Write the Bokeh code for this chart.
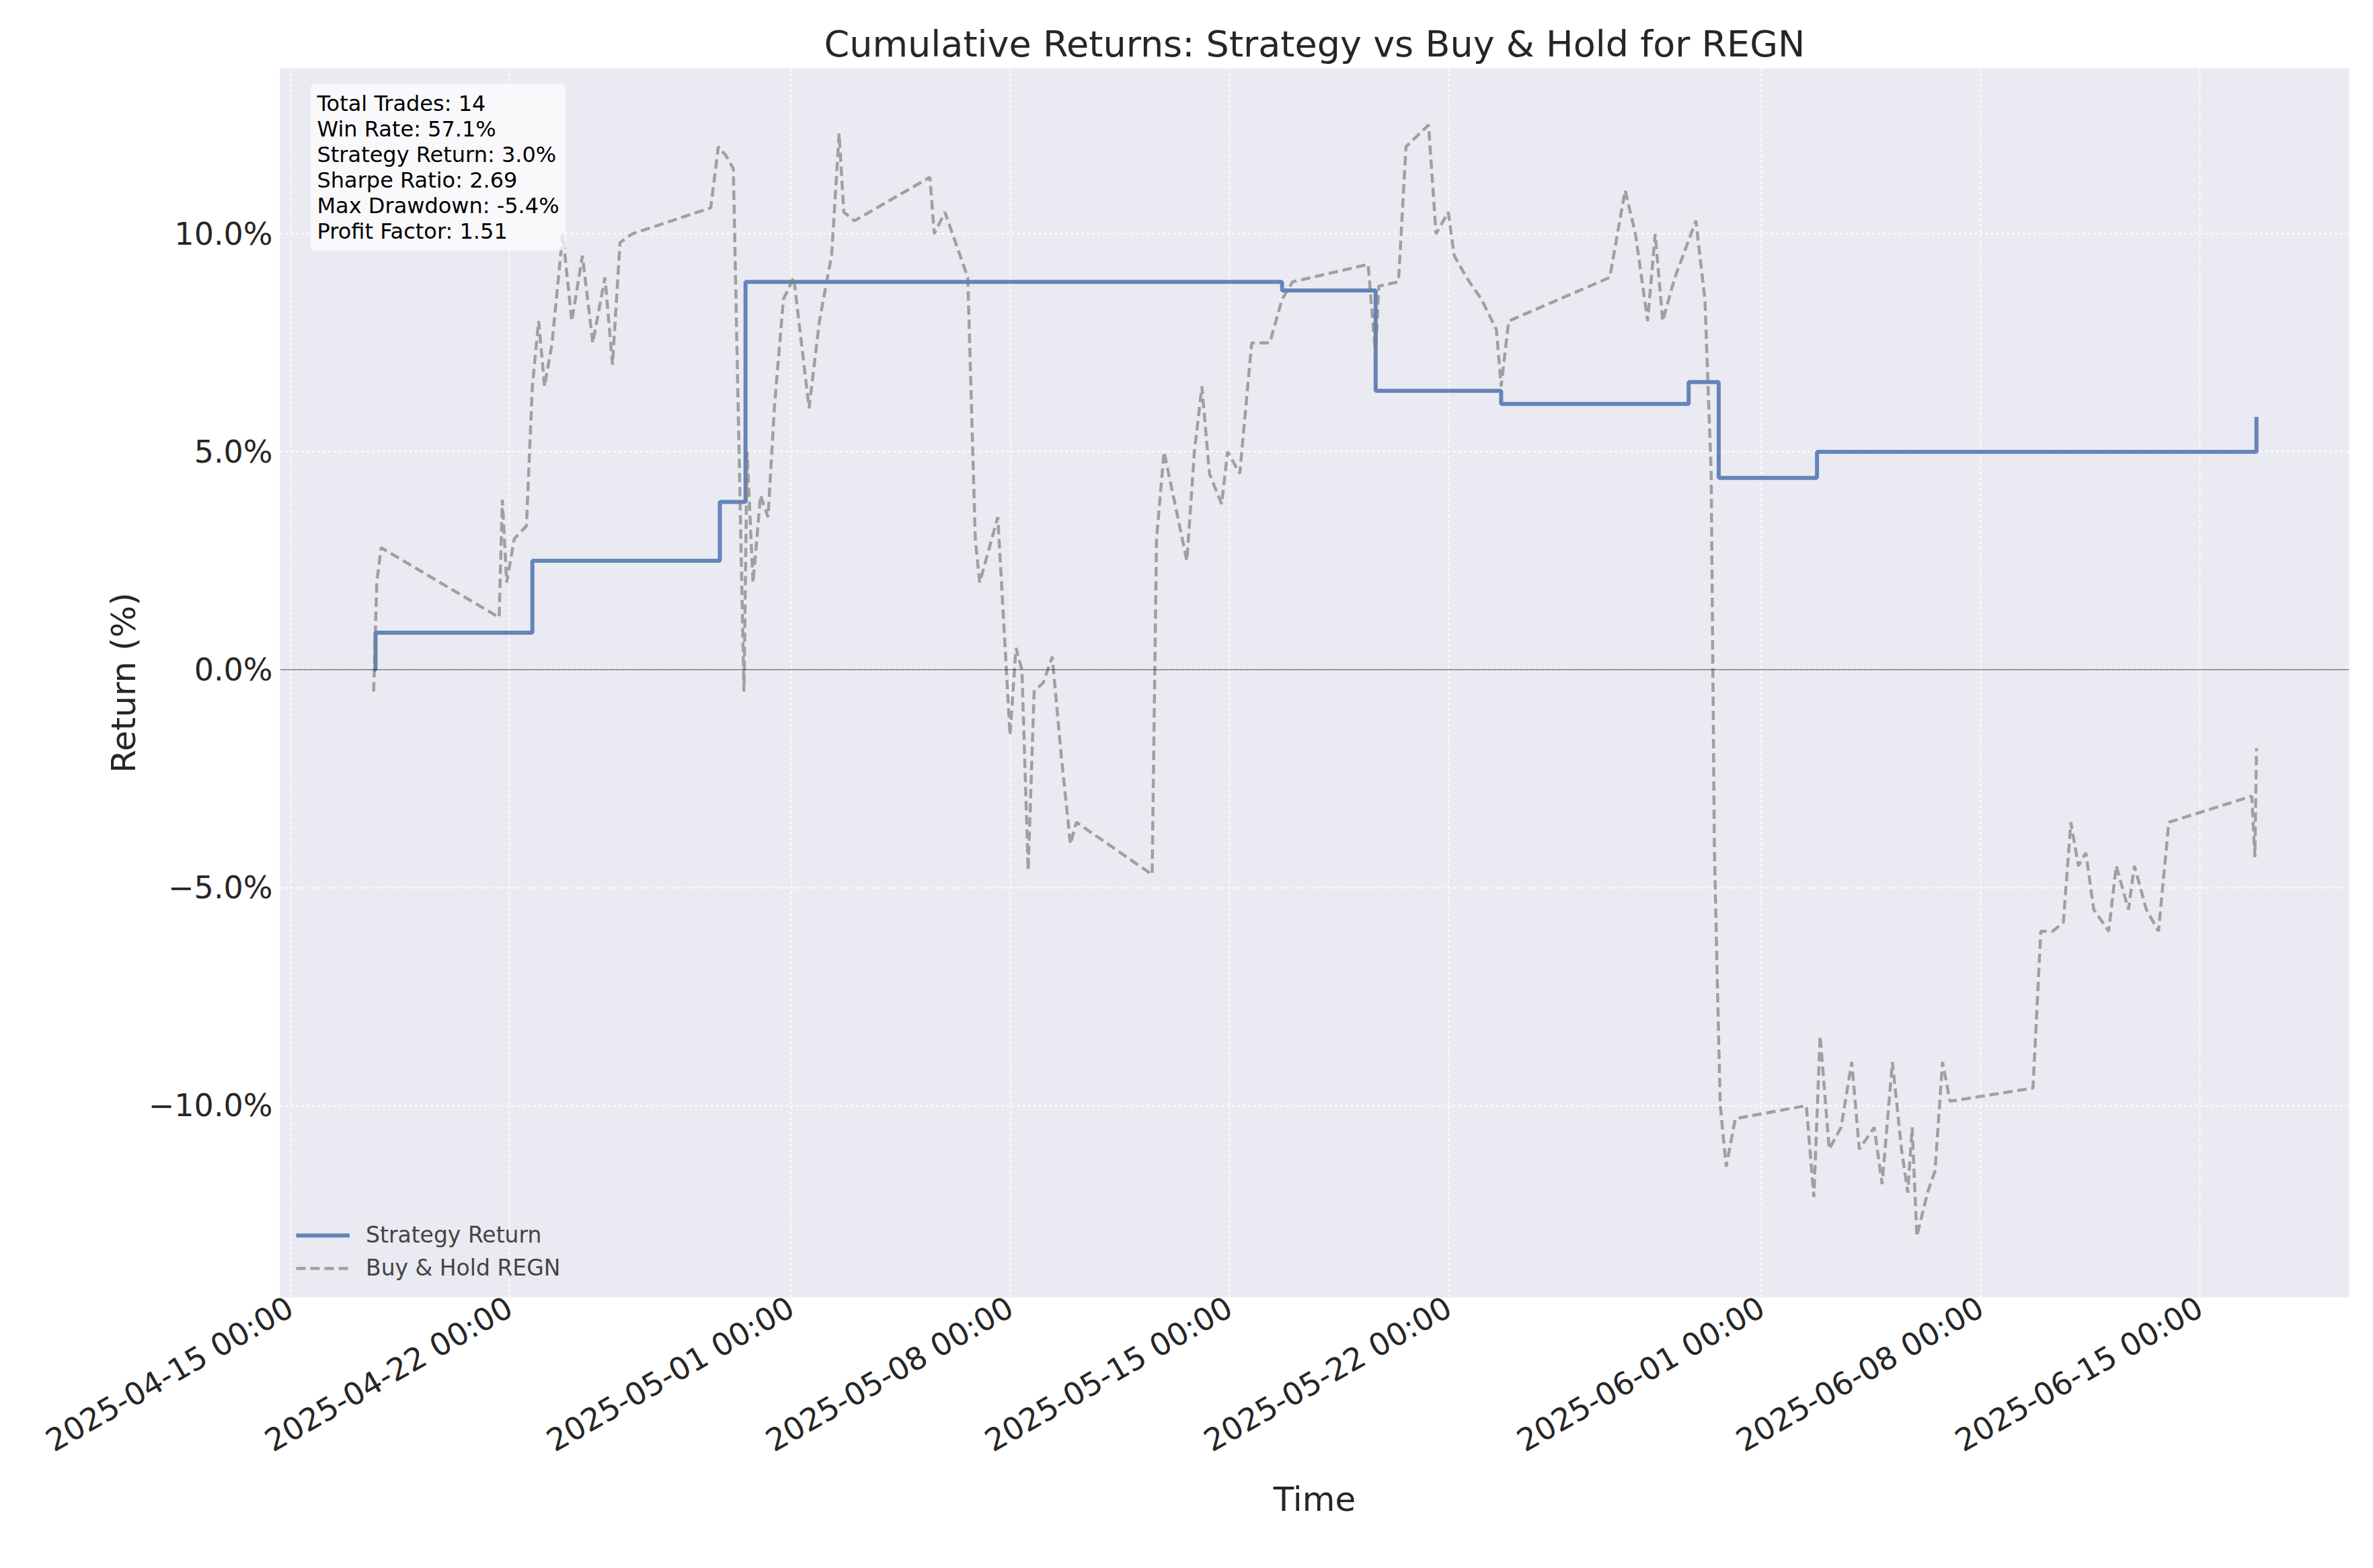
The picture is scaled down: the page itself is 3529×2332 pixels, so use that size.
import pandas as pd
from bokeh.plotting import figure
from bokeh.models import (Span, Label, Legend, LegendItem, FixedTicker,
                          DatetimeTickFormatter, CustomJSTickFormatter, Range1d)
from bokeh.embed import file_html
from bokeh.resources import INLINE

# offsets below are days since this origin
origin = pd.Timestamp("2025-04-14 16:00")

# strategy: (days since origin, cumulative return %)
strat_days = [2.99, 3.05, 8.06, 14.05, 14.87, 32.01, 35.0, 39.01, 45.0, 45.96, 49.1, 63.12, 63.14]
strat_vals = [0.0, 0.85, 2.5, 3.85, 8.9, 8.7, 6.4, 6.1, 6.6, 4.4, 5.0, 5.0, 5.8]

# buy & hold
bh_days = [2.99, 3.09, 3.23, 7.0, 7.10, 7.24, 7.48, 7.87, 8.06, 8.26, 8.45, 8.69, 9.03, 9.32,
           9.66, 9.99, 10.38, 10.62, 10.86, 11.25, 13.76, 14.0, 14.24, 14.48, 14.82, 14.92,
           15.11, 15.35, 15.59, 15.79, 16.08, 16.41, 16.9, 17.23, 17.62, 17.86, 18.01, 18.35,
           20.76, 20.9, 21.24, 21.97, 22.21, 22.35, 22.93, 23.32, 23.51, 23.7, 23.9, 24.09,
           24.38, 24.67, 24.96, 25.25, 25.44, 27.86, 28.0, 28.24, 28.97, 29.21, 29.45, 29.69,
           30.08, 30.27, 30.66, 31.04, 31.62, 32.01, 32.35, 34.76, 35.0, 35.1, 35.73, 35.97,
           36.69, 36.93, 37.32, 37.51, 37.9, 38.38, 38.86, 39.01, 39.25, 42.48, 42.97, 43.3,
           43.69, 43.93, 44.17, 44.56, 45.23, 45.52, 45.72, 45.82, 45.91, 46.01, 46.2, 46.49,
           48.76, 49.0, 49.2, 49.49, 49.87, 50.21, 50.45, 50.93, 51.18, 51.51, 51.8, 52.0,
           52.14, 52.29, 52.63, 52.87, 53.11, 53.35, 56.0, 56.25, 56.63, 56.97, 57.21, 57.45,
           57.69, 57.94, 58.42, 58.66, 59.05, 59.24, 59.62, 60.01, 60.34, 62.99, 63.09, 63.14]
bh_vals = [-0.5, 2.0, 2.8, 1.2, 3.9, 2.0, 3.0, 3.3, 6.5, 8.0, 6.5, 7.5, 10.0, 8.0,
           9.5, 7.5, 9.0, 7.0, 9.8, 10.0, 10.6, 12.0, 11.8, 11.5, -0.5, 5.0,
           2.0, 4.0, 3.5, 6.0, 8.5, 9.0, 6.0, 8.0, 9.5, 12.3, 10.5, 10.3,
           11.3, 10.0, 10.5, 9.0, 3.0, 2.0, 3.5, -1.5, 0.5, 0.0, -4.6, -0.5,
           -0.3, 0.3, -2.0, -4.0, -3.5, -4.7, 3.0, 5.0, 2.5, 5.0, 6.5, 4.5,
           3.8, 5.0, 4.5, 7.5, 7.5, 8.5, 8.9, 9.3, 7.2, 8.8, 8.9, 12.0,
           12.5, 10.0, 10.5, 9.5, 9.0, 8.5, 7.8, 6.5, 8.0, 9.0, 11.0, 10.0,
           8.0, 10.0, 8.0, 9.0, 10.3, 8.5, 4.5, -4.0, -7.0, -10.0, -11.4, -10.3,
           -10.0, -12.1, -8.4, -11.0, -10.5, -9.0, -11.0, -10.5, -11.8, -9.0, -11.0, -12.0,
           -10.5, -13.0, -12.0, -11.5, -9.0, -9.9, -9.6, -6.0, -6.0, -5.8, -3.5, -4.5,
           -4.2, -5.5, -6.0, -4.5, -5.5, -4.5, -5.5, -6.0, -3.5, -2.9, -4.3, -1.8]

stats = ["Total Trades: 14", "Win Rate: 57.1%", "Strategy Return: 3.0%",
         "Sharpe Ratio: 2.69", "Max Drawdown: -5.4%", "Profit Factor: 1.51"]

tick_dates = pd.to_datetime(["2025-04-15", "2025-04-22", "2025-05-01", "2025-05-08",
                             "2025-05-15", "2025-05-22", "2025-06-01", "2025-06-08",
                             "2025-06-15"])

to_t = lambda ds: [origin + pd.Timedelta(days=d) for d in ds]

p = figure(width=3510, height=2310, x_axis_type="datetime", output_backend="svg",
           toolbar_location=None,
           title="Cumulative Returns: Strategy vs Buy & Hold for REGN",
           x_range=Range1d(origin, origin + pd.Timedelta(days=66.1)),
           y_range=Range1d(-14.4, 13.8),
           min_border_left=416, min_border_right=17, min_border_top=101, min_border_bottom=381)
p.background_fill_color = "#EAEAF2"
p.border_fill_color = "white"
p.outline_line_color = None
p.title.text_font = "DejaVu Sans"
p.title.text_font_size = "54px"
p.title.text_font_style = "normal"
p.title.align = "center"
p.title.text_color = "#262626"

p.xgrid.grid_line_color = "white"
p.ygrid.grid_line_color = "white"
p.grid.grid_line_dash = "4 4"
p.grid.grid_line_width = 2

p.xaxis.ticker = FixedTicker(ticks=[t.value / 1e6 for t in tick_dates])
p.xaxis.formatter = DatetimeTickFormatter(days="%Y-%m-%d %H:%M", months="%Y-%m-%d %H:%M")
p.xaxis.major_label_orientation = 0.52
p.yaxis.ticker = FixedTicker(ticks=[-10, -5, 0, 5, 10])
p.yaxis.formatter = CustomJSTickFormatter(
    code="return (tick < 0 ? '\u2212' : '') + Math.abs(tick).toFixed(1) + '%';")
for ax in (p.xaxis, p.yaxis):
    ax.axis_line_color = None
    ax.major_tick_line_color = None
    ax.minor_tick_line_color = None
    ax.major_label_text_font = "DejaVu Sans"
    ax.major_label_text_font_size = "46px"
    ax.major_label_text_color = "#262626"
    ax.axis_label_text_font = "DejaVu Sans"
    ax.axis_label_text_font_size = "50px"
    ax.axis_label_text_font_style = "normal"
    ax.axis_label_text_color = "#262626"
p.xaxis.axis_label = "Time"
p.yaxis.axis_label = "Return (%)"

p.add_layout(Span(location=0, dimension="width", line_color="black",
                  line_alpha=0.5, line_width=1.5))

r1 = p.step(to_t(strat_days), strat_vals, mode="after", line_color="#4C72B0",
            line_width=6, line_alpha=0.85)
r2 = p.line(to_t(bh_days), bh_vals, line_color="gray", line_width=4.5,
            line_alpha=0.7, line_dash="14 7")

legend = Legend(items=[LegendItem(label="Strategy Return", renderers=[r1]),
                       LegendItem(label="Buy & Hold REGN", renderers=[r2])],
                location="bottom_left", background_fill_alpha=0, border_line_color=None,
                label_text_font="DejaVu Sans", label_text_font_size="33px",
                glyph_width=80, label_standoff=24, spacing=10, margin=24)
p.add_layout(legend)

p.add_layout(Label(x=45, y=1805, x_units="screen", y_units="screen",
                   text="\n".join(stats), anchor="top_left",
                   text_font="DejaVu Sans", text_font_size="32px",
                   text_color="black", text_line_height=1.0,
                   background_fill_color="white", background_fill_alpha=0.7,
                   padding=10, border_radius=8))

open("out.html", "w").write(file_html(p, INLINE))
